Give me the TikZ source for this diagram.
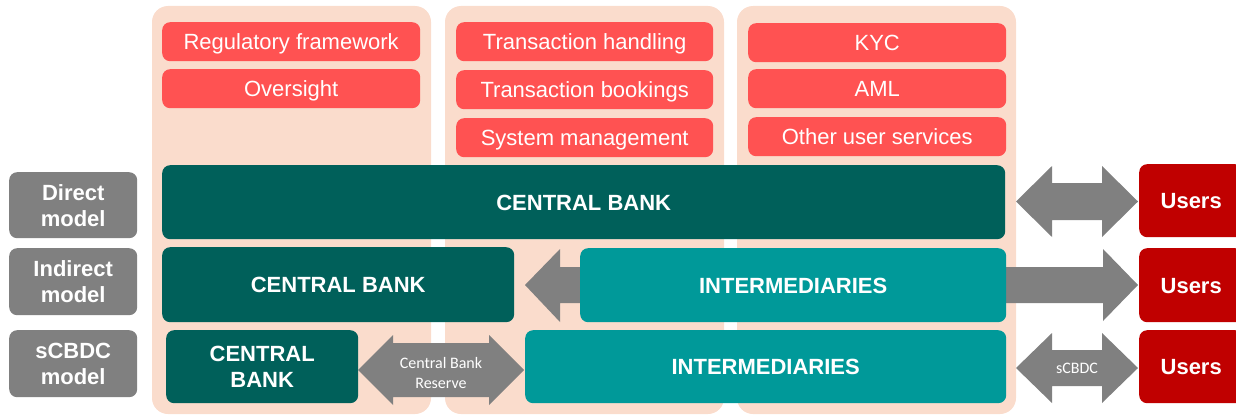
\documentclass[tikz,border=0pt]{standalone}
\usepackage{fontspec}
\setmainfont{Liberation Sans}
\newfontfamily\calibrifont{Carlito}
\definecolor{peach}{HTML}{FADCCC}
\definecolor{svcred}{HTML}{FF5252}
\definecolor{darkteal}{HTML}{00605A}
\definecolor{lightteal}{HTML}{009999}
\definecolor{arrowgray}{HTML}{808080}
\definecolor{userred}{HTML}{C00000}
\newcommand\blockdbl[6]{% x1 x2 yc shafthalf headhalf headlen
  \fill[arrowgray] (#1,#3) -- ({#1+#6},{#3-#5}) -- ({#1+#6},{#3-#4}) -- ({#2-#6},{#3-#4}) -- ({#2-#6},{#3-#5}) -- (#2,#3)
    -- ({#2-#6},{#3+#5}) -- ({#2-#6},{#3+#4}) -- ({#1+#6},{#3+#4}) -- ({#1+#6},{#3+#5}) -- cycle;}
\begin{document}
\begin{tikzpicture}[x=1pt,y=-1pt,
  column/.style={fill=peach, rounded corners=16pt},
  box/.style={rounded corners=8pt, anchor=north west, inner sep=0pt, text=white, align=center,
    font=\fontsize{22}{26}\selectfont},
  oneline/.style={text height=17.5pt, text depth=1.7pt},
  svc/.style={box, oneline, fill=svcred, minimum height=39pt},
  bold/.style={box, font=\fontsize{22}{26}\selectfont\bfseries},
  label/.style={bold, fill=arrowgray, minimum width=128pt},
  cb/.style={bold, fill=darkteal},
  inter/.style={bold, oneline, fill=lightteal},
  users/.style={bold, oneline, fill=userred, minimum width=104pt},
  arrowtext/.style={text=white, align=center, font=\calibrifont\fontsize{16}{20}\selectfont, inner sep=0pt}]
\useasboundingbox (0,0) rectangle (1236,420);
% columns
\fill[column] (152,6) rectangle (431,414);
\fill[column] (445,6) rectangle (724,414);
\fill[column] (737,6) rectangle (1016,414);
% service boxes
\node[svc, minimum width=258pt] (reg) at (162,22) {Regulatory framework};
\node[svc, minimum width=258pt] (ovs) at (162,69) {Oversight};
\node[svc, minimum width=257pt] (th) at (456,22) {Transaction handling};
\node[svc, minimum width=257pt] (tb) at (456,70) {Transaction bookings};
\node[svc, minimum width=257pt] (sm) at (456,118) {System management};
\node[svc, minimum width=258pt] (kyc) at (748,23) {KYC};
\node[svc, minimum width=258pt] (aml) at (748,69) {AML};
\node[svc, minimum width=258pt] (ous) at (748,117) {Other user services};
% model labels
\node[label, minimum height=66pt] (lab1) at (9,172) {Direct\\model};
\node[label, minimum height=67pt] (lab2) at (9,248) {Indirect\\model};
\node[label, minimum height=67pt] (lab3) at (9,330) {sCBDC\\model};
% arrows (drawn below boxes)
\blockdbl{1016}{1138}{201.5}{18.5}{35.5}{36}
\fill[arrowgray] (995,267) -- (1103,267) -- (1103,249) -- (1138,285) -- (1103,321) -- (1103,303) -- (995,303) -- cycle;
\fill[arrowgray] (590,267) -- (560,267) -- (560,249) -- (525,285) -- (560,322) -- (560,303) -- (590,303) -- cycle;
\blockdbl{1016}{1138}{368}{18}{35}{36}
\blockdbl{358}{524}{370}{27}{35}{35}
% main boxes
\node[cb, oneline, minimum width=843pt, minimum height=74pt] (cb1) at (162,165) {CENTRAL BANK};
\node[cb, oneline, minimum width=352pt, minimum height=75pt] (cb2) at (162,247) {CENTRAL BANK};
\node[inter, minimum width=426pt, minimum height=74pt] (int2) at (580,248) {INTERMEDIARIES};
\node[cb, minimum width=192pt, minimum height=73pt] (cb3) at (166,330) {CENTRAL\\BANK};
\node[inter, minimum width=481pt, minimum height=73pt] (int3) at (525,330) {INTERMEDIARIES};
\node[users, minimum height=73pt] (u1) at (1139,164) {Users};
\node[users, minimum height=74pt] (u2) at (1139,248) {Users};
\node[users, minimum height=73pt] (u3) at (1139,330) {Users};
% arrow labels
\node[arrowtext] (cbr) at (441,373) {Central Bank\\Reserve};
\node[arrowtext] (scb) at (1077,368) {sCBDC};
\end{tikzpicture}
\end{document}
